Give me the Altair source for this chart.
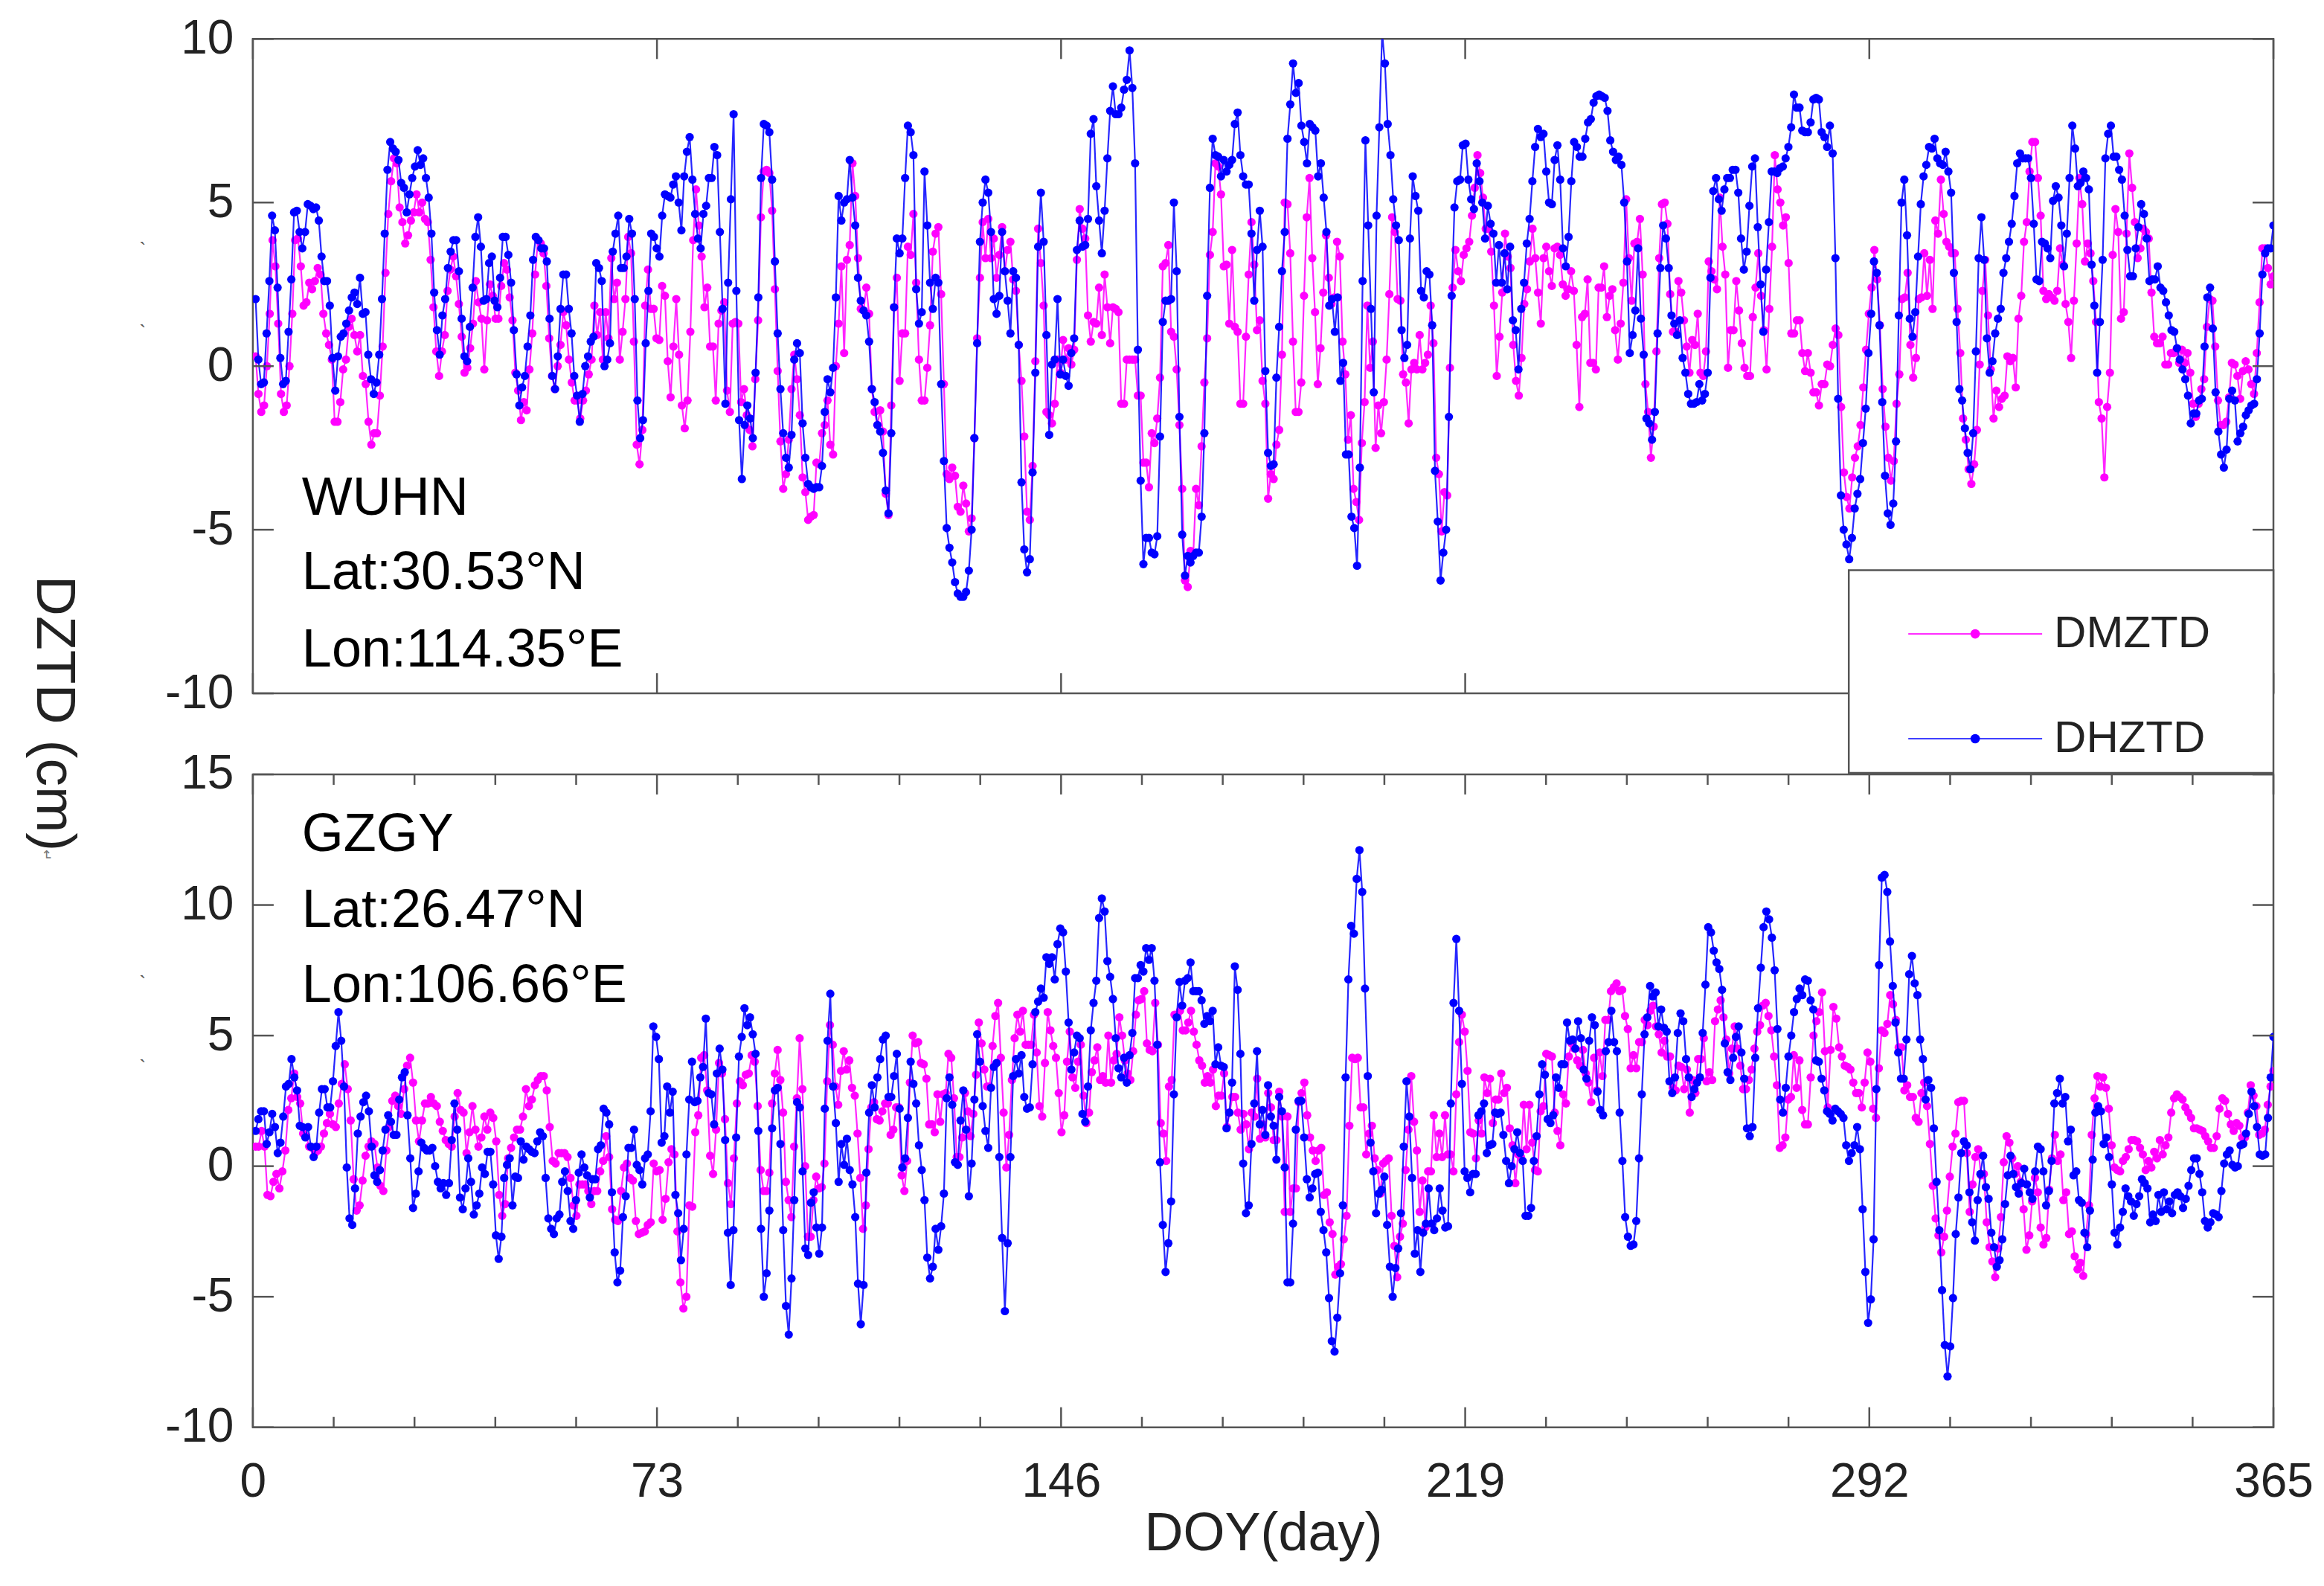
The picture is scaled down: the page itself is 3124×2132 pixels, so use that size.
import numpy as np
import pandas as pd
import altair as alt

# day at which each read-off stretch of the series begins and ends
seg_days = [0.5, 92.8, 186.9, 280.9, 365.0]

WU_H1 = [2.05,0.2,-0.55,-0.5,1.0,2.6,4.6,4.15,2.4,0.25,-0.55,-0.45,1.05,2.65,4.7,4.75,4.1,3.6,4.1,4.95,4.9,4.8,4.85,4.45,3.35,2.6,2.6,1.85,0.25,-0.75,0.3,0.9,1.0,1.3,1.7,2.1,2.25,1.9,2.7,1.6,1.65,0.35,-0.4,-0.85,-0.5,0.35,2.05,4.05,6.0,6.85,6.65,6.55,6.3,5.6,5.45,4.7,5.25,5.75,6.1,6.6,6.15,6.35,5.75,5.15,4.05,2.25,1.1,0.35,1.55,2.05,3.0,3.5,3.85,3.85,2.9,1.45,0.3,0.15,1.2,2.4,3.95,4.55,3.65,2.0,2.05,3.15,3.35,2.0,1.8,2.7,3.95,3.95,3.4,2.55,1.1,-0.25,-1.2,-0.65,-0.3,0.6,1.55,3.25,3.95,3.85,3.6,3.6,3.2,1.45,-0.3,-0.7,0.3,1.75,2.8,2.8,1.75,1.0,-0.3,-0.9,-1.7,-0.85,0,0.3,0.75,0.9,3.15,3.0,2.6,0,0.2,0.7,3.5,4.05,4.6,3.0,3.0,3.35,4.5,4.05,2.05,-1.05,-2.2,-1.65,0.7,2.3,4.05,3.95,3.6,3.35,4.6,5.25,5.2,5.15,5.55,5.8,5.0,4.15,5.8,6.55,7.0,5.7,4.65,3.9,3.6,4.65,4.9,5.75,5.75,6.7,6.45,4.1,1.75,-1.15,2.55,5.1,7.7,2.3,-1.65,-3.45,-1.8,-1.2,-1.6,-2.2,-0.2,2.1,5.75,7.4]
WU_H2 = [7.35,7.15,5.7,3.2,1.0,-0.7,-2.05,-2.8,-3.1,-2.1,0.2,0.7,0.4,-1.75,-2.8,-3.6,-3.7,-3.75,-3.7,-3.7,-3.05,-1.4,-0.4,-0.8,-0.05,2.1,5.2,4.45,5.0,5.1,6.3,5.15,4.3,2.7,2.0,1.7,1.55,0.75,-0.7,-1.1,-1.8,-2.0,-2.65,-3.8,-4.5,-2.05,1.8,3.9,3.45,3.9,5.75,7.35,7.15,6.45,2.35,1.3,1.65,5.95,4.3,2.55,1.75,2.7,2.55,-0.55,-2.9,-4.95,-5.55,-6.0,-6.6,-6.95,-7.05,-7.05,-6.9,-6.25,-5.0,-2.2,0.7,3.8,5.0,5.7,5.3,4.1,2.05,1.6,2.15,4.1,2.9,2.0,1.0,2.9,2.7,0.65,-3.55,-5.6,-6.3,-5.9,-3.25,-0.2,3.65,5.3,3.8,0.95,-2.1,0.05,0.2,2.05,-0.25,0.2,-0.3,-0.6,0.4,0.85,3.55,4.45,3.65,3.7,4.5,7.1,7.55,5.5,4.45,3.45,4.75,6.35,7.8,8.55,7.7,7.7,7.9,8.45,8.75,9.65,8.5,6.2,0.5,-3.5,-6.05,-5.25,-5.25,-5.7,-5.75,-5.2,-2.15,1.35,2.0,2.0,2.05,5.0,2.9,-1.55,-5.15,-6.4,-5.8,-6.0,-5.8,-5.7,-5.7,-4.6,-2.05,2.15,5.45,6.95,6.45,6.4,5.8,6.3,5.95,6.15,6.3,7.4,7.75,6.45,5.8,5.55,5.55,4.05,2.0,3.55,4.75,3.65,-0.15,-2.65,-3.05,-3.0,-0.35,1.2,2.9,4.1]
WU_H3 = [6.95,8.0,9.25,8.35,8.65,7.35,6.85,6.2,7.4,7.3,7.2,5.8,6.2,5.15,4.1,1.85,2.05,1.05,2.1,-0.45,0.1,-2.7,-2.7,-4.6,-4.95,-6.1,-3.1,2.6,6.9,4.3,1.75,-0.8,4.6,7.3,10.2,9.25,7.4,6.45,5.1,4.3,3.85,1.1,0.25,0.65,3.9,5.8,5.2,4.75,2.3,2.1,2.9,2.8,1.25,-3.2,-4.75,-6.55,-5.7,-5.0,-1.55,2.15,4.85,5.65,5.7,6.75,6.8,5.7,5.1,4.8,6.2,5.65,5.0,3.9,4.9,4.35,4.05,2.55,3.7,2.55,3.45,2.35,3.65,1.4,1.1,-0.1,1.75,2.55,3.75,4.5,5.65,6.7,7.25,7.0,7.1,5.95,5.0,4.95,6.3,6.75,5.7,3.6,3.05,3.95,5.65,6.85,6.7,6.4,6.4,6.95,7.45,7.55,8.05,8.25,8.3,8.25,8.2,7.8,6.9,6.55,6.3,6.4,6.15,5.0,3.2,0.4,0.95,1.7,3.6,1.45,0.35,-1.6,-1.75,-2.25,-1.4,1.0,3.0,4.3,3.9,3.0,1.55,1.3,0.95,1.4,0.25,-0.2,-0.85,-1.15,-1.15,-1.1,-0.55,-1.05,-0.85,-0.2,2.7,5.35,5.75,5.1,4.75,5.4,5.75,5.75,6.0,6.0,5.3,3.9,2.95,3.5,4.9,6.1,6.35,4.25,2.5,1.05,2.95,4.4,5.95,5.95,5.9,6.05,6.1,6.35,6.7,7.3,8.3,7.9,7.9,7.2,7.15]
WU_H4 = [7.15,7.45,8.15,8.2,8.15,7.15,7.0,6.7,7.35,6.5,3.3,-1.0,-3.95,-5.0,-5.45,-5.9,-5.25,-4.35,-3.9,-3.45,-2.35,-1.3,0.4,1.6,3.2,2.85,1.25,-1.1,-3.35,-4.5,-4.85,-4.2,-2.3,1.55,5.0,5.7,4.0,1.45,0.9,1.65,3.35,4.95,5.8,6.15,6.7,6.65,6.95,6.35,6.2,6.15,6.55,5.95,5.3,2.85,1.35,-0.7,-1.05,-1.9,-2.65,-3.15,-2.05,0.45,3.3,4.55,3.25,0.85,-0.2,0.15,1.0,1.45,1.75,2.85,3.3,3.8,4.35,5.2,6.2,6.5,6.35,6.35,6.35,5.75,4.35,2.65,2.6,3.8,3.75,3.6,3.3,5.05,5.5,5.15,4.3,3.05,4.05,5.75,7.35,6.65,5.5,5.6,5.95,5.75,5.4,3.1,1.85,-0.2,1.35,3.25,6.35,7.1,7.35,6.4,6.4,6.0,5.7,4.6,3.55,2.75,2.75,3.6,4.25,4.95,4.65,3.9,2.6,2.65,2.65,3.05,2.4,2.3,1.95,1.55,1.1,1.05,0.55,0.2,-0.1,-0.4,-0.9,-1.75,-1.45,-1.45,-1.05,-1.0,0.6,2.1,2.4,1.15,-0.8,-2.0,-2.7,-3.1,-2.55,-1.0,-0.75,-1.05,-2.3,-2.05,-1.85,-1.5,-1.35,-1.2,-1.15,-0.4,1.0,2.8,3.45,3.6,3.6,4.3]

WU_M1 = [0.3,-0.85,-1.4,-1.2,0,1.6,3.85,3.05,1.3,-0.85,-1.4,-1.2,0,1.6,3.85,3.9,3.05,1.85,1.95,2.55,2.35,2.6,3.0,2.8,1.6,1.0,0.65,0.2,-1.7,-1.7,-1.1,-0.1,0.2,1.2,1.45,0.95,0.45,0.95,-0.3,-0.55,-1.7,-2.4,-2.05,-2.05,-0.9,0.6,2.85,4.65,5.65,6.35,6.2,4.85,4.4,3.75,4.0,4.45,4.7,5.25,4.7,5.0,4.5,4.4,3.25,1.8,0.45,-0.3,0.45,0.95,2.3,2.95,3.35,2.75,1.9,0.9,-0.2,-0.05,0.55,1.3,2.6,1.95,1.45,-0.1,1.4,2.5,2.15,1.45,1.45,2.45,3.15,2.95,2.1,1.4,-0.2,-0.75,-1.65,-1.1,-1.35,-0.1,1.0,2.8,3.85,3.75,3.45,2.45,0.85,-0.3,-0.7,0,0.65,1.65,1.25,0.2,-0.5,-1.05,-1.05,-1.6,-1.05,-0.75,-0.25,0.2,1.85,0.95,1.65,0.2,1.65,0.85,3.3,2.05,2.55,0.2,1.05,2.05,3.95,3.45,0.75,-2.4,-3.0,-1.95,1.85,2.95,1.75,1.75,0.85,0.8,2.45,2.15,0.15,-0.95,0.6,2.05,0.35,-1.2,-1.9,-1.05,1.05,3.85,5.4,4.3,3.35,1.8,2.4,0.6,0.6,-1.05,1.3,1.7,1.95,-0.75,-1.4,1.3,1.35,1.3,-1.1,-0.7,-1.5,-1.95,-2.45,-0.4,1.4,4.55,5.95]
WU_M2 = [6.0,5.9,4.75,2.35,-0.15,-2.3,-3.75,-3.3,-2.25,-0.7,0.35,-0.4,-1.5,-3.4,-3.85,-4.7,-4.6,-4.55,-2.95,-3.0,-2.05,-1.8,-1.05,-2.4,-2.7,0,1.3,3.05,0.4,3.25,3.7,6.2,5.2,3.3,1.75,1.7,2.4,1.6,-0.7,-1.4,-1.8,-1.35,-2.0,-3.9,-4.55,-1.2,1.8,2.7,-0.45,1.0,1.0,3.65,3.4,4.65,2.55,0.2,-1.05,-1.05,-0.05,1.25,3.5,4.05,4.25,2.2,-0.55,-3.3,-3.45,-3.1,-3.35,-4.3,-4.45,-3.65,-4.2,-5.05,-4.65,-2.2,0.85,2.7,4.4,3.3,4.5,3.3,3.9,2.7,3.4,4.25,2.9,3.55,3.8,2.65,2.3,0.65,-0.45,-2.15,-4.45,-4.7,-3.05,0.15,4.2,3.15,1.85,-1.4,-1.5,-1.75,-1.15,0.2,-0.2,0.8,0.2,0.55,0.05,0.5,3.25,4.8,4.2,3.9,1.55,0.75,1.35,1.3,2.4,0.95,2.8,1.8,0.7,1.8,1.75,1.65,-1.15,-1.15,0.2,0.2,0.2,0.2,-0.9,-0.9,-2.95,-2.95,-3.7,-2.05,-2.35,-1.6,-0.35,3.05,3.15,3.7,1.05,0.9,-0.1,-1.8,-3.75,-6.55,-6.75,-5.65,-5.75,-3.75,-4.25,-2.45,-0.5,0.85,3.4,4.1,6.2,6.1,5.25,3.05,3.1,1.3,3.55,1.2,1.05,-1.15,-1.15,0.9,2.8,4.4,3.1,1.1,1.4,-0.45,-1.15,-4.05,-3.3,-3.45,-2.4,-1.95,0.35,5.0]
WU_M3 = [4.95,3.45,0.75,-1.4,-1.4,-0.5,2.15,4.55,5.75,3.3,1.65,-0.55,0.55,2.25,4.0,2.7,1.9,2.1,3.8,3.35,0.75,-0.25,-2.25,-1.5,-3.75,-4.15,-4.7,-2.35,-1.1,1.85,-0.05,0.75,-2.5,-1.2,-2.05,-1.1,0.2,2.2,4.55,4.1,2.05,2.0,-0.25,-0.5,-1.75,-0.1,0.1,-0.1,0.95,-0.1,0.1,0.35,1.85,0.7,-2.8,-3.3,-5.05,-3.85,-3.95,-0.05,2.4,3.55,2.9,2.6,3.4,3.6,3.8,4.6,5.45,6.45,5.9,5.15,4.2,4.2,3.5,1.85,-0.3,0.9,2.25,4.05,3.35,3.0,0.65,-0.45,-0.9,0.25,1.9,2.35,3.2,4.2,3.3,2.25,1.3,3.3,3.65,2.9,2.45,3.6,3.65,3.4,2.5,2.15,2.35,2.9,2.3,0.65,-1.25,1.5,1.6,2.65,0.1,0.1,-0.1,2.4,2.4,3.05,1.5,2.15,2.35,1.1,0.2,1.3,2.55,5.1,3.3,2.0,3.75,3.8,4.5,2.8,-0.55,-1.4,-2.8,-1.85,0.45,3.3,4.95,5.0,4.35,2.2,1.05,1.05,2.6,2.25,1.4,0.6,-0.2,0.8,0.65,1.6,-0.2,-0.3,0.45,3.2,2.9,2.65,2.35,5.15,3.65,2.8,-0.05,1.1,1.1,2.6,1.7,0.7,-0.05,-0.3,-0.3,1.5,2.4,3.45,2.15,1.1,-0.1,1.75,3.65,6.45,5.4,5.0,4.3,4.55,3.15,1.0,1.0,1.4,1.4,0.4,-0.15]
WU_M4 = [0.4,-0.2,-0.8,-0.8,-1.2,-0.55,-0.55,0.05,0,0.65,1.15,0.95,-1.25,-3.25,-4.0,-4.35,-3.4,-2.8,-2.45,-1.8,-0.65,0.5,1.6,2.4,3.55,2.65,1.25,-0.7,-1.85,-2.8,-3.5,-2.9,-1.15,-0.25,2.05,2.1,2.85,0.65,-0.35,0.25,2.05,2.1,3.45,2.15,3.25,1.75,4.45,4.05,5.7,4.65,3.8,3.65,3.45,3.45,1.75,0.4,-1.6,-2.25,-3.15,-3.6,-3.0,-1.95,0.05,2.3,3.25,1.55,-0.1,-1.6,-0.75,-1.25,-1.0,-0.9,0.3,0.15,0.25,-0.65,1.45,2.15,3.8,4.4,5.95,6.85,6.85,5.75,4.6,2.3,2.05,2.2,2.1,2.0,2.3,3.6,3.1,1.9,1.35,0.25,2.0,3.75,5.75,4.95,3.2,3.75,3.45,2.6,1.35,-1.1,-1.6,-3.4,-1.25,-0.2,3.4,4.8,4.1,1.45,1.65,4.05,6.5,5.45,4.4,3.3,3.6,4.2,4.1,3.9,2.25,0.9,0.7,0.7,0.9,0.05,0.05,0.4,0.4,0.5,0.1,0.5,0.1,0.4,-0.2,-1.15,-1.55,-1.15,-0.7,-0.4,1.2,2.05,2.0,0.6,-1.05,-1.8,-1.8,-1.7,-0.95,0.1,0.05,-0.3,-1.0,-0.15,0.15,-0.1,-0.55,-0.85,0.4,1.95,3.6,3.6,3.0,2.5,2.75]

GZ_H1 = [1.35,1.8,2.1,2.1,0.85,1.3,2.0,1.5,0.5,0.9,1.9,3.05,3.15,4.1,3.4,2.9,1.55,1.5,1.1,1.5,0.75,0.35,0.75,2.05,2.95,2.95,2.25,2.25,3.25,4.6,5.9,4.8,3.05,-0.05,-2.0,-2.25,-0.85,1.25,1.9,2.45,2.7,2.1,0.75,-0.35,-0.6,-0.15,0.6,1.4,1.95,1.7,1.2,1.2,2.55,3.4,3.6,1.95,0.3,-1.6,-1.05,-0.2,0.9,0.7,0.6,0.6,0.7,0,-0.6,-0.85,-0.65,-1.1,-0.65,1.0,2.4,1.4,-1.2,-1.65,-0.85,0.3,-0.6,-1.85,-1.5,-1.05,-0.05,-0.3,0.55,0.55,-0.7,-2.65,-3.55,-2.7,-0.45,0.05,0.3,-1.5,-0.4,-0.45,0.95,0.25,0.75,0.65,0.55,0.5,0.95,1.3,1.15,-0.45,-2.0,-2.4,-2.6,-2.0,-1.85,-0.6,-0.2,-0.95,-2.1,-2.4,-1.3,-0.25,0.45,-0.05,-0.35,-1.2,-0.5,-0.5,0.65,0.8,2.2,2.05,1.6,-1.0,-3.3,-4.45,-4.0,-1.95,-1.15,0.7,0.7,1.4,0.05,-0.15,-0.7,0.3,0.45,2.1,5.35,4.95,4.1,0.9,1.15,3.05,2.05,2.85,-1.1,-1.8,-3.6,-2.4,0.45,2.55,4.0,2.45,2.5,3.4,3.8,5.65,2.8,2.75,1.6,3.55,4.5,3.7,1.0,-2.55,-4.55,-2.45,1.1,4.2,4.95,6.05,5.4,5.7,5.05,4.3,1.35,-2.4,-5.0]
GZ_H2 = [-4.1,-1.7,1.45,2.9,3.0,0.85,-2.45,-5.35,-6.45,-4.3,-1.3,2.45,2.25,-0.2,-3.15,-3.4,-1.4,-1.0,-2.35,-3.35,-2.35,2.2,4.8,6.6,3.05,1.65,-0.6,0.85,0.05,1.05,-0.15,-0.7,-1.95,-4.5,-6.05,-4.55,-0.25,2.05,3.1,2.25,3.4,4.1,4.85,5.0,2.65,2.65,3.45,4.3,2.2,-0.05,0.3,1.85,4.0,3.15,2.4,0.8,-0.15,-1.3,-3.5,-4.3,-3.85,-2.4,-3.2,-2.3,-1.05,2.6,3.4,2.35,0.15,0.05,1.75,2.9,1.4,-1.15,0.1,2.55,5.05,4.0,2.3,1.35,0.7,3.0,3.8,3.95,0.35,-2.75,-5.55,-2.95,0.35,3.45,4.1,3.55,4.25,2.65,2.2,2.25,3.9,5.9,6.3,6.8,6.45,8.0,7.75,8.0,7.15,8.5,9.1,8.95,7.45,5.5,3.7,4.35,5.0,4.9,2.0,1.7,3.05,5.2,6.25,7.1,9.5,10.25,9.75,7.85,7.25,6.4,4.9,3.75,3.4,4.15,3.2,4.25,5.1,7.2,7.2,7.7,7.45,8.35,7.9,8.35,7.1,4.65,0.15,-2.25,-4.05,-2.95,-1.35,2.75,5.7,7.05,6.15,7.1,7.2,7.8,6.7,6.7,6.7,6.35,5.45,5.75,5.55,5.95,3.9,4.55,3.85,3.8,1.45,2.05,3.2,7.65,6.75,4.3,0.1,-1.8,-1.5,0.85,2.4,4.4,1.6,2.15,1.2,3.1,1.9,1.55,0.25,2.65,2.1,-0.05]
GZ_H3 = [-4.45,-4.45,-2.2,1.4,2.5,2.5,1.1,-0.5,-1.2,-0.85,-0.3,-0.25,-1.75,-2.45,-3.3,-5.05,-6.7,-7.1,-5.8,-4.1,-1.5,3.4,7.15,9.2,8.9,11.0,12.1,10.5,6.8,3.45,0.9,-0.2,-1.8,-1.05,-0.9,-0.4,-2.25,-3.85,-5.0,-3.9,-3.15,-1.8,0.75,3.25,1.9,-0.45,-3.35,-2.45,-4.05,-2.55,-2.2,-0.85,-2.2,-2.45,-2.0,-0.85,-1.7,-2.35,-2.3,2.4,6.25,8.7,5.95,3.15,-0.2,-0.45,-1.0,-0.3,-0.3,1.95,2.1,2.4,0.5,0.8,0.85,2.05,2.0,2.05,1.2,0.2,-0.65,0,0.65,1.3,0.5,0.2,-1.9,-1.9,-1.6,0.2,1.15,2.75,3.9,3.5,1.8,1.65,1.95,3.4,3.0,3.9,3.9,5.5,4.8,4.85,4.5,5.55,4.9,3.7,3.35,4.8,5.7,5.4,2.85,2.15,1.95,4.4,4.75,5.95,4.75,4.4,2.05,0.2,-1.95,-2.7,-3.05,-3.0,-2.1,0.3,2.75,5.05,5.7,6.9,6.5,6.65,5.35,6.0,5.3,5.15,3.25,2.8,3.4,5.1,5.85,5.55,4.1,3.4,2.65,2.95,3.2,3.4,5.1,6.95,9.15,8.95,8.25,7.8,7.55,6.75,4.7,3.6,3.3,4.15,4.95,5.35,4.35,3.35,1.45,1.15,1.5,4.15,6.05,7.6,9.15,9.75,9.45,8.75,7.5,5.25,2.55,2.05,3.0,4.2,5.0,5.9,6.4,6.8,6.55,7.15]
GZ_H4 = [7.1,6.35,6.0,4.05,4.0,3.35,2.9,2.1,2.0,1.75,2.2,2.1,2.0,1.85,0.8,0.2,0.5,0.8,1.5,0.65,-1.65,-4.05,-6.0,-5.1,-2.8,2.95,7.7,11.05,11.15,10.5,8.6,6.9,5.5,4.35,3.35,3.35,4.85,7.35,8.05,7.0,6.55,4.85,4.1,2.55,3.3,3.0,1.45,-0.6,-2.45,-4.75,-6.85,-8.05,-6.9,-5.05,-2.6,-1.2,0.5,0.95,0.8,-1.0,-2.15,-2.85,-1.3,-0.3,0.4,-0.8,-1.25,-2.55,-3.1,-3.85,-3.6,-2.8,-1.45,-0.35,0.4,-0.3,-0.8,-1.05,-0.65,-0.1,-0.7,-1.0,-1.25,-0.2,0.75,0.65,-0.2,-1.5,-0.95,0.2,2.4,2.8,3.35,2.4,2.65,0.95,1.4,-0.35,-0.2,-1.3,-1.4,-2.55,-3.1,-1.7,0.25,2.05,2.3,2.1,0.85,1.1,0.35,-0.7,-2.55,-3.0,-2.35,-1.75,-0.85,-1.15,-1.35,-1.9,-1.45,-1.15,-0.5,-0.65,-0.85,-2.15,-1.85,-2.1,-1.1,-1.75,-1.0,-1.65,-1.35,-1.8,-1.1,-1.0,-1.15,-1.6,-1.25,-0.75,-0.15,0.3,0.3,-0.3,-1.0,-2.1,-2.35,-2.15,-1.8,-1.85,-1.95,-0.95,0.1,0.45,0.6,0.05,-0.05,0,0.8,0.85,1.25,2.0,2.85,2.3,1.5,0.45,0.4,0.45,1.85,3.4,4.95]

GZ_M1 = [0.75,0.75,1.35,0.75,-1.1,-1.15,-0.6,-0.3,-0.85,-0.2,0.6,2.15,2.6,3.55,2.65,2.4,1.25,1.15,0.75,0.7,0.5,0.6,0.75,1.25,1.65,2.0,1.6,1.5,2.4,3.15,3.9,2.95,1.75,-0.5,-1.7,-1.5,-0.55,0.4,0.75,0.95,0.85,-0.05,-0.75,-0.95,0.6,1.5,2.5,2.7,2.3,2.0,2.95,3.85,4.15,3.2,1.75,0.95,1.75,2.4,2.4,2.65,2.4,2.3,1.7,1.35,1.0,0.85,0.75,1.9,2.8,2.15,2.05,0.5,1.3,2.3,1.4,0.75,1.1,1.9,1.4,2.05,1.85,0.95,-1.1,-1.9,-1.45,0.3,0.7,1.1,1.4,1.4,1.9,2.95,2.3,2.55,3.1,3.3,3.45,3.45,2.9,1.5,0.2,0.1,0.5,0.5,0.5,0.35,-0.45,-1.5,-1.9,-0.7,-0.7,-0.7,-0.95,-1.45,-0.95,-0.95,-0.2,0.2,1.15,0.35,-1.65,-2.05,-2.1,-0.95,-0.05,0.1,-0.45,-0.55,-2.1,-2.6,-2.55,-2.5,-2.25,-2.15,0.1,-0.2,-0.15,-2.05,-1.25,0.15,0.65,0.45,-2.5,-4.45,-5.45,-5.0,-1.5,-1.55,1.3,1.95,4.15,4.25,2.9,0.4,-0.3,1.4,3.95,3.55,1.8,-0.65,-1.45,0.3,2.4,3.25,3.1,3.5,3.55,4.25,4.0,2.3,-0.15,-0.95]
GZ_M2 = [-0.95,-0.25,2.4,3.55,4.45,3.3,2.05,-0.6,-1.3,-1.95,0.75,2.6,4.9,2.95,0,-2.7,-2.7,-1.3,-0.4,-0.85,-0.8,0.1,3.25,5.4,4.65,3.05,2.35,3.65,4.4,3.7,4.05,3.0,2.7,1.25,-0.45,-2.4,-1.5,0.65,2.25,2.45,1.8,1.75,2.1,2.4,2.4,1.2,1.4,2.25,2.25,-0.35,-0.95,0.2,3.2,5.0,4.7,4.75,3.95,3.9,3.35,1.6,1.6,1.3,2.75,1.7,2.75,2.8,4.3,4.15,2.6,0.35,0.35,1.1,2.8,2.1,1.15,2.0,3.5,5.5,4.7,3.7,3.05,3.05,4.6,5.75,6.25,4.15,2.05,-0.05,1.2,3.3,4.9,5.8,5.15,5.95,4.65,4.65,4.65,5.8,4.35,2.3,1.9,3.95,5.9,5.2,4.6,4.15,2.8,1.3,1.95,4.0,5.15,3.4,3.0,4.0,4.65,2.7,1.65,2.05,3.6,4.05,4.55,3.3,3.45,3.2,5.0,3.2,4.05,4.3,5.7,5.0,4.05,3.55,3.3,4.4,5.8,6.35,6.4,6.7,4.7,4.45,4.4,6.25,4.65,1.65,1.25,0.2,3.05,3.3,5.8,5.8,5.95,5.2,5.2,5.5,5.95,5.15,4.65,4.05,3.85,3.2,3.45,3.2,3.7,2.3,2.7,2.7,3.55,1.5,2.05,2.65,2.65,2.05,1.4,2.0,1.6,0.65,2.05,1.9,3.35,1.05,1.6,1.1,2.8,2.25,1.0,1.0,2.85,1.9,-1.75]
GZ_M3 = [1.9,-1.75,-0.85,-0.85,2.45,2.8,3.2,1.95,1.1,0.6,0.2,0.6,0.7,-1.1,-1.0,-2.15,-2.6,-4.15,-3.85,-3.75,-2.8,-1.9,1.55,4.15,4.1,4.15,2.25,2.25,0.45,1.25,1.55,0.3,-0.15,-1.05,0.1,0.2,0.3,-1.9,-3.05,-4.25,-2.7,-2.2,-0.15,1.4,3.45,1.7,0.6,-1.75,-0.55,-2.35,-0.2,-0.2,1.95,0.35,1.25,0.35,1.95,0.45,0.45,-0.2,2.75,4.75,5.8,5.15,3.65,1.3,1.25,0.3,1.75,1.25,3.4,2.8,3.35,1.65,2.55,2.55,3.55,2.8,3.0,1.45,0.8,-0.65,0.45,0.35,2.35,0.65,2.35,0.9,-0.15,-0.2,2.1,2.3,4.3,4.25,4.2,2.05,1.35,0.8,2.75,2.4,4.2,4.7,4.5,4.05,3.85,4.45,3.55,3.2,2.45,4.15,2.9,4.35,3.45,5.6,5.6,6.7,6.85,7.0,6.7,6.75,5.75,5.25,3.75,4.25,3.75,4.75,4.75,5.6,5.4,5.95,6.15,5.35,5.05,4.35,4.8,4.2,4.2,3.0,2.9,3.85,3.8,2.95,3.7,2.05,3.3,2.8,4.1,4.1,4.9,3.25,3.6,3.3,5.55,6.0,6.35,5.7,4.85,3.55,4.5,5.35,4.5,3.85,2.95,2.95,3.3,3.7,4.5,5.15,5.4,6.15,6.25,5.75,5.2,4.2,3.1,0.7,0.8,1.1,2.55,2.65,4.25,3.0,4.05,2.15,1.6]
GZ_M4 = [1.6,3.4,5.0,5.55,5.9,6.65,4.4,2.25,4.45,6.1,5.65,4.55,4.2,3.85,3.8,3.7,3.2,2.8,2.8,2.25,3.2,4.35,4.0,2.2,1.85,3.75,5.2,5.1,5.45,6.55,6.2,5.6,4.55,4.55,2.9,3.1,2.65,2.65,1.85,1.7,2.8,3.2,2.3,0.85,-0.75,-2.0,-2.65,-3.3,-2.7,-1.7,-0.4,0.75,1.25,2.45,2.5,2.5,0.5,-1.75,-0.7,0.35,0.65,-0.35,-0.3,-2.15,-3.1,-3.65,-4.25,-3.15,-1.95,0.15,1.15,0.9,0.3,-0.3,0,-0.6,-1.65,-3.2,-2.65,-1.35,-0.45,-1.0,-2.35,-3.0,-2.75,-0.9,0.3,1.2,0.2,0.45,-1.3,-1.0,-2.6,-2.5,-3.45,-3.95,-3.7,-4.2,-2.6,-1.5,1.2,2.6,3.45,3.05,3.4,3.0,2.2,0.8,-0.05,-0.15,-0.2,0.2,0.35,0.65,1.0,1.0,0.95,0.7,0.45,-0.15,0.2,-0.05,0.55,0.3,1.0,0.45,0.8,1.1,2.05,2.6,2.75,2.65,2.55,2.25,2.05,1.85,1.45,1.45,1.4,1.35,1.15,0.95,0.7,0.7,1.15,2.2,2.6,2.5,2.0,1.6,1.35,1.65,1.55,1.1,1.1,2.05,3.1,2.7,2.3,1.2,1.25,1.4,2.35,3.05,3.65]

series_names = ["DMZTD", "DHZTD"]
series_colors = ["#ff00ff", "#0000ff"]
major_days = [0, 73, 146, 219, 292, 365]
minor_days = [14.6, 29.2, 43.8, 58.4, 87.6, 102.2, 116.8, 131.4, 160.6, 175.2, 189.8, 204.4, 233.6, 248.2, 262.8, 277.4, 306.6, 321.2, 335.8, 350.4]
top_ticks = [-10, -5, 0, 5, 10]
bottom_ticks = [-10, -5, 0, 5, 10, 15]

FONT = "Liberation Sans"
FRAME = "#555555"
W, H1, H2 = 2717, 880, 878


def frame(name, segs):
    rows = []
    for k, vals in enumerate(segs):
        days = np.linspace(seg_days[k], seg_days[k + 1], len(vals), endpoint=(k == 3))
        rows += [{"day": float(d), "v": v, "series": name} for d, v in zip(days, vals)]
    return pd.DataFrame(rows)


def label(text, x, y, size=72, color="black", angle=0, align="left", baseline="alphabetic"):
    return alt.Chart(pd.DataFrame({"t": [text]})).mark_text(
        font=FONT, fontSize=size, color=color, align=align, baseline=baseline, angle=angle
    ).encode(x=alt.value(x), y=alt.value(y), text="t:N")


def panel(mag, blue, ymin, ymax, ticks, height, major_len, with_minor, legend, xaxis):
    xs = alt.Scale(domain=[0, 365], nice=False, zero=False)
    ys = alt.Scale(domain=[ymin, ymax], nice=False, zero=False)
    color = alt.Color("series:N", scale=alt.Scale(domain=series_names, range=series_colors), legend=legend)
    yaxis = alt.Axis(values=ticks, ticks=False, domain=False, grid=False, title=None, labelFont=FONT,
                     labelFontSize=64, labelColor="#222222", labelPadding=26, labelOverlap=False,
                     labelFlush=False, labelExpr="'' + datum.value")
    layers = []
    for df in (mag, blue):
        base = alt.Chart(df).encode(x=alt.X("day:Q", scale=xs, axis=xaxis), y=alt.Y("v:Q", scale=ys, axis=yaxis), color=color)
        layers.append(base.mark_line(strokeWidth=2.2, strokeOpacity=0.85, clip=True))
        layers.append(base.mark_point(filled=True, opacity=1, size=125, clip=True))

    def xticks(days, length):
        d = alt.Chart(pd.DataFrame({"d": days}))
        x = alt.X("d:Q", scale=xs, axis=xaxis)
        st = dict(color=FRAME, strokeWidth=2.5)
        return [d.mark_rule(**st).encode(x=x, y=alt.value(height), y2=alt.value(height - length)),
                d.mark_rule(**st).encode(x=x, y=alt.value(0), y2=alt.value(length))]

    layers += xticks(major_days, major_len)
    if with_minor:
        layers += xticks(minor_days, 14)
    t = alt.Chart(pd.DataFrame({"v": ticks}))
    y = alt.Y("v:Q", scale=ys, axis=yaxis)
    st = dict(color=FRAME, strokeWidth=2.5)
    layers += [t.mark_rule(**st).encode(y=y, x=alt.value(0), x2=alt.value(28)),
               t.mark_rule(**st).encode(y=y, x=alt.value(W), x2=alt.value(W - 28))]
    return layers


noxaxis = alt.Axis(labels=False, ticks=False, domain=False, grid=False, title=None, values=major_days)
xaxis2 = alt.Axis(values=major_days, ticks=False, domain=False, grid=False, title="DOY(day)", labelFont=FONT,
                  labelFontSize=64, labelColor="#222222", labelPadding=42, titleFont=FONT, titleFontSize=72,
                  titleFontWeight="normal", titleColor="#222222", titlePadding=2, labelOverlap=False,
                  labelFlush=False, format="d")

legend_path = "M-18,0L18,0M1.1,0A1.1,1.1,0,1,1,-1.1,0A1.1,1.1,0,1,1,1.1,0Z"
legend = alt.Legend(orient="none", legendX=2286, legendY=770, title=None, symbolType=legend_path, symbolSize=100,
                    symbolStrokeWidth=1.7, labelFont=FONT, labelFontSize=60, labelColor="#222222", labelOffset=76,
                    rowPadding=81, padding=0, labelLimit=400)

box = alt.Chart(pd.DataFrame({"a": [0]})).mark_rect(fill="white", stroke=FRAME, strokeWidth=2.5).encode(
    x=alt.value(2146), x2=alt.value(W), y=alt.value(714.5), y2=alt.value(987))

top_layers = panel(frame("DMZTD", [WU_M1, WU_M2, WU_M3, WU_M4]), frame("DHZTD", [WU_H1, WU_H2, WU_H3, WU_H4]),
                   -10, 10, top_ticks, H1, 27, False, legend, noxaxis)
top = alt.layer(
    *top_layers, box,
    label("WUHN", 66, 640), label("Lat:30.53°N", 66, 740), label("Lon:114.35°E", 66, 844),
    label("DZTD (cm)", -267, 907, size=75, color="#222222", angle=90, align="center", baseline="middle"),
    label("↵", -278, 1098, size=18, color="#777777", angle=90, align="center", baseline="middle"),
    label("`", -148, 284, size=26, color="#555555", align="center", baseline="middle"),
    label("`", -148, 395, size=26, color="#555555", align="center", baseline="middle"),
).properties(width=W, height=H1)

bottom_layers = panel(frame("DMZTD", [GZ_M1, GZ_M2, GZ_M3, GZ_M4]), frame("DHZTD", [GZ_H1, GZ_H2, GZ_H3, GZ_H4]),
                      -10, 15, bottom_ticks, H2, 27, True, None, xaxis2)
bottom = alt.layer(
    *bottom_layers,
    label("GZGY", 66, 103), label("Lat:26.47°N", 66, 205), label("Lon:106.66°E", 66, 306),
    label("`", -148, 281, size=26, color="#555555", align="center", baseline="middle"),
    label("`", -148, 394, size=26, color="#555555", align="center", baseline="middle"),
).properties(width=W, height=H2)

chart = alt.vconcat(top, bottom, spacing=109, bounds="flush").resolve_scale(color="independent").properties(
    background="white",
    padding={"left": 25, "top": 10, "right": 5, "bottom": 5}
).configure_view(stroke=FRAME, strokeWidth=2.5)

chart.save("out.html", embed_options={"renderer": "svg", "actions": False})
